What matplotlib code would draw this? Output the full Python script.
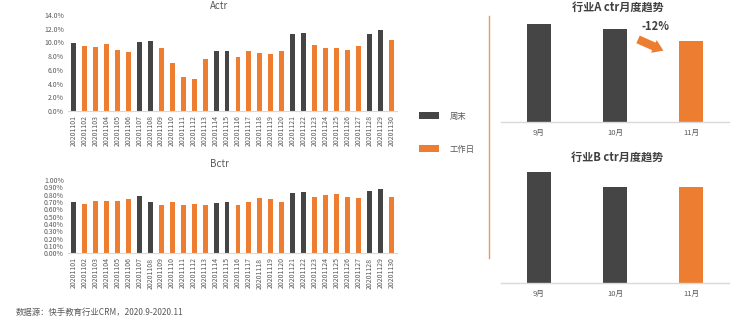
import matplotlib
matplotlib.use("Agg")
import matplotlib.pyplot as plt
from matplotlib.ticker import PercentFormatter, FixedLocator
from matplotlib.lines import Line2D

plt.rcParams['font.family'] = ['Noto Sans CJK SC', 'DejaVu Sans']

# ---------------- data ----------------
dates = ["202011%02d" % d for d in range(1, 31)]
day_type = ["周末", "工作日", "工作日", "工作日", "工作日", "工作日", "周末", "周末",
            "工作日", "工作日", "工作日", "工作日", "工作日", "周末", "周末",
            "工作日", "工作日", "工作日", "工作日", "工作日", "周末", "周末",
            "工作日", "工作日", "工作日", "工作日", "工作日", "周末", "周末", "工作日"]
actr = [0.099, 0.095, 0.094, 0.097, 0.0885, 0.0865, 0.1006, 0.1016, 0.0923, 0.070,
        0.0496, 0.0467, 0.0758, 0.0875, 0.087, 0.0785, 0.087, 0.084, 0.0826, 0.088,
        0.112, 0.1137, 0.096, 0.0913, 0.0918, 0.0885, 0.0947, 0.113, 0.1175, 0.103]
bctr = [0.0070, 0.00668, 0.00713, 0.0072, 0.00713, 0.00736, 0.00777, 0.00705, 0.0066, 0.00696,
        0.00664, 0.00673, 0.00655, 0.00682, 0.0070, 0.00655, 0.00705, 0.0075, 0.00736, 0.00705,
        0.00818, 0.00836, 0.00764, 0.00795, 0.00805, 0.00764, 0.00755, 0.00855, 0.00877, 0.00768]
months = ["9月", "10月", "11月"]
month_a = [0.098, 0.0925, 0.081]
month_b = [0.0082, 0.0071, 0.0071]

# ---------------- style ----------------
W, H = 737, 326
DARK = "#454545"
ORANGE = "#ED7D31"
GRAY = "#595959"
AXIS = "#D9D9D9"
colors = {"周末": DARK, "工作日": ORANGE}

fig = plt.figure(figsize=(W / 100, H / 100), dpi=100)


def rect(x0, y_top, x1, y_bot):
    return [x0 / W, 1 - y_bot / H, (x1 - x0) / W, (y_bot - y_top) / H]


def daily(ax, vals, ymax, step, decimals):
    x = list(range(len(dates)))
    for t in ["周末", "工作日"]:
        xs = [i for i in x if day_type[i] == t]
        vs = [vals[i] for i in x if day_type[i] == t]
        ax.bar(xs, vs, width=0.45, color=colors[t], label=t, linewidth=0)
    ax.set_xlim(-0.5, len(dates) - 0.5)
    ax.set_ylim(0, ymax)
    ax.set_xticks(x)
    ax.set_xticklabels(dates, rotation=90, fontsize=5, color=GRAY)
    n = int(round(ymax / step))
    ax.yaxis.set_major_locator(FixedLocator([i * step for i in range(n + 1)]))
    ax.yaxis.set_major_formatter(PercentFormatter(1.0, decimals=decimals))
    ax.tick_params(axis='y', labelsize=5, labelcolor=GRAY, length=0, pad=3)
    ax.tick_params(axis='x', length=0, pad=3)
    for s in ["top", "right", "left"]:
        ax.spines[s].set_visible(False)
    ax.spines["bottom"].set_color(AXIS)
    ax.spines["bottom"].set_linewidth(0.8)
    ax.patch.set_alpha(0)


ax1 = fig.add_axes(rect(68, 15, 397, 111))
daily(ax1, actr, 0.14, 0.02, 1)
ax2 = fig.add_axes(rect(68, 180, 397, 253.3))
daily(ax2, bctr, 0.01, 0.001, 2)

fig.text(219 / W, 1 - 1 / H, "Actr", ha="center", va="top", fontsize=7, color=GRAY)
fig.text(219 / W, 1 - 164 / H, "Bctr", ha="center", va="center", fontsize=7, color=GRAY)

h, l = ax1.get_legend_handles_labels()
fig.legend(h, l, loc="upper left", bbox_to_anchor=(411 / W, 1 - 104 / H),
           frameon=False, fontsize=6, labelcolor=GRAY, handlelength=2.4,
           handleheight=0.9, labelspacing=2.9, handletextpad=1.3)

fig.text(16 / W, 1 - 312 / H, "数据源：快手教育行业CRM，2020.9-2020.11",
         ha="left", va="center", fontsize=6, color=GRAY)


def monthly(ax, vals, top):
    cols = [DARK] * (len(vals) - 1) + [ORANGE]
    ax.bar(range(len(vals)), vals, width=0.32, color=cols, linewidth=0)
    ax.set_xlim(-0.5, len(vals) - 0.5)
    ax.set_ylim(0, top)
    ax.set_xticks(range(len(vals)))
    ax.set_xticklabels(months, fontsize=5.5, color=GRAY)
    ax.set_yticks([])
    ax.tick_params(axis='x', length=0, pad=5)
    for s in ["top", "right", "left"]:
        ax.spines[s].set_visible(False)
    ax.spines["bottom"].set_color(AXIS)
    ax.spines["bottom"].set_linewidth(1.0)
    ax.patch.set_alpha(0)


ax3 = fig.add_axes(rect(501, 15, 729, 122))
monthly(ax3, month_a, max(month_a) * 107 / 98.3)
ax4 = fig.add_axes(rect(501, 170, 729, 283))
monthly(ax4, month_b, max(month_b) * 113 / 111.3)

chg = month_a[2] / month_a[1] - 1
ax3.annotate("", xy=(1.67, 0.0700), xytext=(1.27, 0.0835),
             arrowprops=dict(arrowstyle="simple,head_width=1.0,head_length=0.75,tail_width=0.6",
                             color=ORANGE, lw=0))
ax3.text(1.53, 0.0957, f"{chg:.0%}", ha="center", va="center", fontsize=8,
         fontweight="bold", color="#404040")

fig.text(618 / W, 1 - 1 / H, "行业A ctr月度趋势", ha="center", va="top",
         fontsize=8, fontweight="bold", color="#404040")
fig.text(617 / W, 1 - 157 / H, "行业B ctr月度趋势", ha="center", va="center",
         fontsize=8, fontweight="bold", color="#404040")

fig.add_artist(Line2D([489 / W, 489 / W], [1 - 16 / H, 1 - 258 / H],
                      color=ORANGE, lw=1.0, alpha=0.8))

fig.savefig("out.png", dpi=100)
